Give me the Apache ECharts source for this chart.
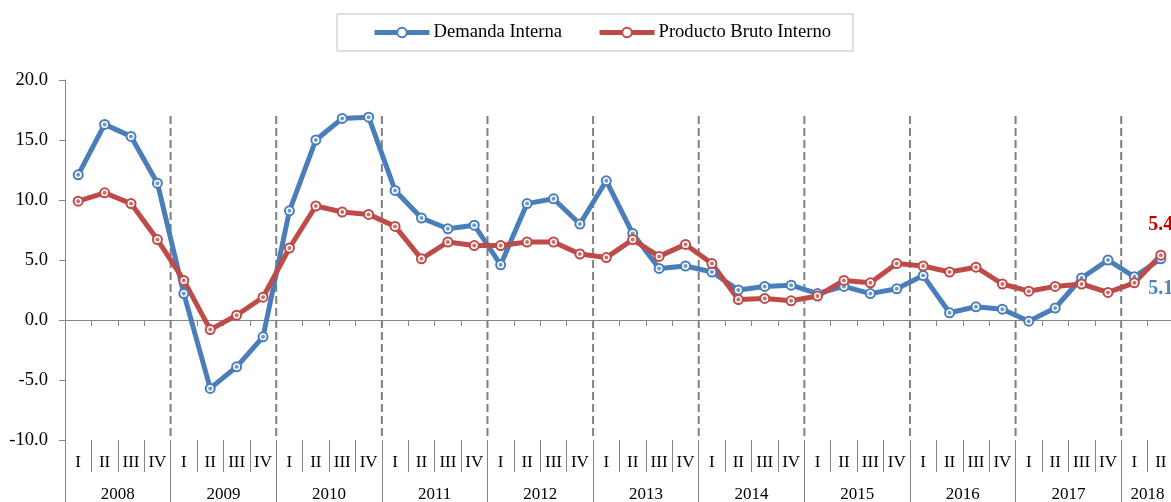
<!DOCTYPE html>
<html>
<head>
<meta charset="utf-8">
<script src="https://cdn.jsdelivr.net/npm/echarts@6/dist/echarts.min.js"></script>
<style>
  html, body { margin: 0; padding: 0; background: #fff; }
  #chart { width: 1171px; height: 502px; }
</style>
</head>
<body>
<div id="chart"></div>
<script>
// Quarterly growth (%), 2008-I to 2018-II
const years = ['2008', '2009', '2010', '2011', '2012', '2013', '2014', '2015', '2016', '2017', '2018'];
const quarterNames = ['I', 'II', 'III', 'IV'];
const quartersPerYear = [4, 4, 4, 4, 4, 4, 4, 4, 4, 4, 2];

const demandaInterna = [
  12.1, 16.3, 15.3, 11.4,
  2.2, -5.7, -3.9, -1.4,
  9.1, 15.0, 16.8, 16.9,
  10.8, 8.5, 7.6, 7.9,
  4.6, 9.7, 10.1, 8.0,
  11.6, 7.2, 4.3, 4.5,
  4.0, 2.5, 2.8, 2.9,
  2.2, 2.8, 2.2, 2.6,
  3.7, 0.6, 1.1, 0.9,
  -0.1, 1.0, 3.5, 5.0,
  3.6, 5.1
];
const productoBrutoInterno = [
  9.9, 10.6, 9.7, 6.7,
  3.3, -0.8, 0.4, 1.9,
  6.0, 9.5, 9.0, 8.8,
  7.8, 5.1, 6.5, 6.2,
  6.2, 6.5, 6.5, 5.5,
  5.2, 6.7, 5.3, 6.3,
  4.7, 1.7, 1.8, 1.6,
  2.0, 3.3, 3.1, 4.7,
  4.5, 4.0, 4.4, 3.0,
  2.4, 2.8, 3.0, 2.3,
  3.1, 5.4
];

// top of the dashed year dividers, in axis units
const dividerTop = 17;

// ---- derived category structures ----
const quarterLabels = [];
const yearStarts = [];
const yearAxisLabels = [];   // one slot per quarter boundary (n + 1)
years.forEach((y, i) => {
  yearStarts.push(quarterLabels.length);
  for (let q = 0; q < quartersPerYear[i]; q++) quarterLabels.push(quarterNames[q]);
});
const nQ = quarterLabels.length;
for (let k = 0; k <= nQ; k++) yearAxisLabels.push('');
const yearBoundarySet = new Set([0, nQ]);
years.forEach((y, i) => {
  yearAxisLabels[yearStarts[i] + quartersPerYear[i] / 2] = y;
  yearBoundarySet.add(yearStarts[i]);
});
const dividerIdx = yearStarts.slice(1);

const FONT = "'Liberation Serif', 'Times New Roman', serif";
const AXIS_GREY = '#868686';
const BLUE = '#4A7EBB';
const RED = '#BE4B48';

function withLastLabel(arr, color, position) {
  return arr.map((v, i) => i === arr.length - 1
    ? { value: v, label: { show: true, position: position, distance: 15, color: color,
        fontFamily: FONT, fontSize: 20, fontWeight: 'bold',
        formatter: p => Number(p.value).toFixed(1) } }
    : v);
}

const chart = echarts.init(document.getElementById('chart'), null, { renderer: 'canvas' });

chart.setOption({
  animation: false,
  backgroundColor: '#fff',
  textStyle: { fontFamily: FONT, color: '#000' },
  legend: {
    left: 337, top: 14,
    padding: [9, 22, 9, 35],
    borderColor: '#BFBFBF', borderWidth: 1,
    itemWidth: 55, itemHeight: 12, itemGap: 35,
    lineStyle: { width: 5 },
    textStyle: { fontFamily: FONT, fontSize: 18.6, color: '#000', padding: [0, 0, 0, -1] },
    data: ['Demanda Interna', 'Producto Bruto Interno']
  },
  grid: { left: 65, top: 80, width: 1109, bottom: 62, containLabel: false, outerBoundsMode: 'none' },
  xAxis: [
    { // axis line through zero with quarter ticks
      type: 'category', data: quarterLabels, boundaryGap: true,
      axisLine: { onZero: true, lineStyle: { color: AXIS_GREY, width: 1 } },
      axisTick: { show: true, interval: 0, length: 6, lineStyle: { color: AXIS_GREY } },
      axisLabel: { show: false }, splitLine: { show: false }
    },
    { // quarter labels and short separators below the plot
      type: 'category', data: quarterLabels, boundaryGap: true, position: 'bottom',
      axisLine: { show: false, onZero: false },
      axisTick: { show: true, interval: 0, length: 32, lineStyle: { color: AXIS_GREY } },
      axisLabel: { interval: 0, margin: 14, fontFamily: FONT, fontSize: 17, color: '#000' },
      splitLine: { show: false }
    },
    { // year labels and long separators
      type: 'category', data: yearAxisLabels, boundaryGap: false, position: 'bottom',
      axisLine: { show: false, onZero: false },
      axisTick: { show: true, interval: (idx) => yearBoundarySet.has(idx), length: 62,
        lineStyle: { color: AXIS_GREY } },
      axisLabel: { interval: 0, margin: 46, fontFamily: FONT, fontSize: 17, color: '#000' },
      splitLine: { show: false }
    }
  ],
  yAxis: {
    type: 'value', min: -10, max: 20, interval: 5,
    axisLine: { show: true, lineStyle: { color: AXIS_GREY, width: 1 } },
    axisTick: { show: true, length: 6, lineStyle: { color: AXIS_GREY } },
    axisLabel: { margin: 17, fontFamily: FONT, fontSize: 18.6, color: '#000',
      formatter: v => v.toFixed(1) },
    splitLine: { show: false }
  },
  series: [
    { // dashed dividers between years
      type: 'custom', silent: true, clip: false, z: 1,
      data: dividerIdx.map(k => [k, dividerTop]),
      renderItem: (params, api) => {
        const k = dividerIdx[params.dataIndex];
        const cs = params.coordSys;
        const x = cs.x + k * cs.width / nQ;
        const top = api.coord([0, dividerTop])[1];
        const bottom = cs.y + cs.height;
        return {
          type: 'line',
          shape: { x1: x, y1: top, x2: x, y2: bottom },
          style: { stroke: '#808080', lineWidth: 2, lineDash: [8, 4] }
        };
      }
    },
    {
      name: 'Demanda Interna', type: 'line', z: 3,
      data: withLastLabel(demandaInterna, '#4F81BD', 'bottom'),
      symbol: 'emptyCircle', symbolSize: 9,
      lineStyle: { color: BLUE, width: 5 },
      itemStyle: { color: BLUE, borderColor: BLUE, borderWidth: 2 }
    },
    {
      name: 'Demanda Interna', type: 'scatter', z: 3, silent: true,
      data: demandaInterna, symbol: 'circle', symbolSize: 4,
      itemStyle: { color: BLUE }
    },
    {
      name: 'Producto Bruto Interno', type: 'line', z: 3,
      data: withLastLabel(productoBrutoInterno, '#C00000', 'top'),
      symbol: 'emptyCircle', symbolSize: 9,
      lineStyle: { color: RED, width: 5 },
      itemStyle: { color: RED, borderColor: RED, borderWidth: 2 }
    },
    {
      name: 'Producto Bruto Interno', type: 'scatter', z: 3, silent: true,
      data: productoBrutoInterno, symbol: 'circle', symbolSize: 4,
      itemStyle: { color: RED }
    }
  ]
});
</script>
</body>
</html>
